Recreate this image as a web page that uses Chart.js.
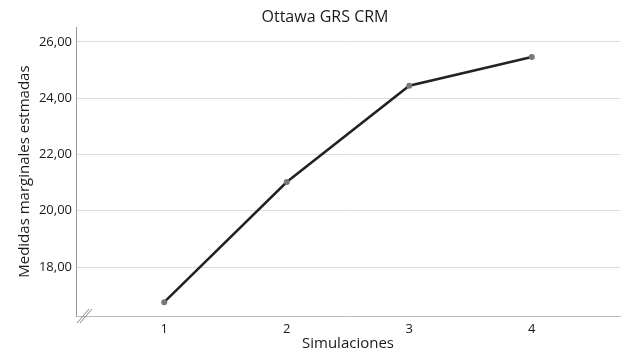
<!DOCTYPE html>
<html>
<head>
<meta charset="utf-8">
<script src="https://cdn.jsdelivr.net/npm/chart.js@4"></script>
<style>
  html, body { margin: 0; padding: 0; background: #fff; }
  #wrap { width: 627px; height: 359px; }
</style>
</head>
<body>
<div id="wrap"><canvas id="lineChart" width="627" height="359"></canvas></div>
<script>
const simulaciones = [1, 2, 3, 4];
const medidas = [16.75, 21.02, 24.44, 25.46];
const yTicks = [18, 20, 22, 24, 26];

const font = "'Open Sans', 'DejaVu Sans', sans-serif";

// small "//" axis break mark at the bottom-left corner
const breakMark = {
  id: "breakMark",
  afterDraw(chart) {
    const { ctx, chartArea } = chart;
    ctx.save();
    ctx.strokeStyle = "#888";
    ctx.lineWidth = 1;
    for (const dx of [0, 3]) {
      ctx.beginPath();
      ctx.moveTo(chartArea.left + 1 + dx, chartArea.bottom + 7);
      ctx.lineTo(chartArea.left + 13 + dx, chartArea.bottom - 7);
      ctx.stroke();
    }
    ctx.restore();
  }
};

// nudge the title a bit right, like the original
const titleShift = {
  id: "titleShift",
  afterLayout(chart) {
    if (chart.titleBlock) chart.titleBlock.left += 30;
  }
};

function initChart() {
  const ctx = document.getElementById("lineChart").getContext("2d");
  new Chart(ctx, {
    type: "line",
    data: {
      datasets: [{
        data: simulaciones.map((s, i) => ({ x: s, y: medidas[i] })),
        borderColor: "#222",
        borderWidth: 2.5,
        pointRadius: 3,
        pointBackgroundColor: "#777",
        pointBorderColor: "#777",
        pointBorderWidth: 0,
        tension: 0
      }]
    },
    options: {
      responsive: false,
      animation: false,
      layout: { padding: { left: 0, right: 7, top: 0, bottom: 0 } },
      plugins: {
        legend: { display: false },
        tooltip: { enabled: false },
        title: {
          display: true,
          text: "Ottawa GRS CRM",
          color: "#1a1a1a",
          font: { family: font, size: 16, weight: "normal" },
          padding: { top: 8, bottom: 0 }
        }
      },
      scales: {
        x: {
          type: "linear",
          min: 0.28,
          max: 4.72,
          afterBuildTicks: (scale) => { scale.ticks = simulaciones.map(v => ({ value: v })); },
          afterFit: (scale) => { scale.height = 43; },
          grid: { display: false, drawTicks: false },
          border: { display: true, color: "#bbb", width: 1 },
          ticks: {
            color: "#1a1a1a",
            padding: 5,
            font: { family: font, size: 13 },
            callback: (v) => String(v)
          },
          title: {
            display: true,
            text: "Simulaciones",
            color: "#1a1a1a",
            font: { family: font, size: 15 },
            padding: { top: 0, bottom: 6 }
          }
        },
        y: {
          min: 16.26,
          max: 26.52,
          afterBuildTicks: (scale) => { scale.ticks = yTicks.map(v => ({ value: v })); },
          afterFit: (scale) => { scale.width = 76; },
          grid: { color: "#ddd", drawTicks: false },
          border: { display: true, color: "#999", width: 1 },
          ticks: {
            color: "#1a1a1a",
            padding: 4,
            font: { family: font, size: 13 },
            callback: (v) => v.toFixed(2).replace(".", ",")
          },
          title: {
            display: true,
            text: "Medidas marginales estmadas",
            color: "#1a1a1a",
            font: { family: font, size: 15 },
            padding: { top: 16, bottom: 0 }
          }
        }
      }
    },
    plugins: [breakMark, titleShift]
  });
}

window.onload = () => {
  initChart();
};
</script>
</body>
</html>
